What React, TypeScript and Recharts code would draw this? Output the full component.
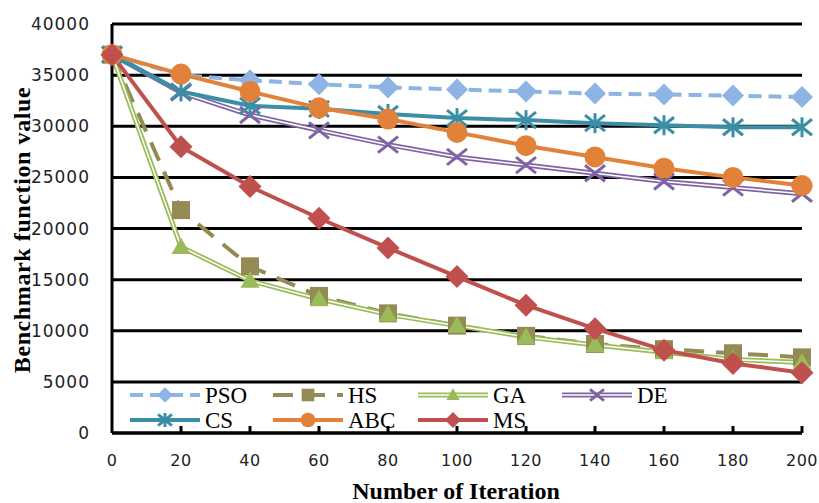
import React from 'react';
import { LineChart, Line, XAxis, YAxis, CartesianGrid } from 'recharts';

const iterations = [0, 20, 40, 60, 80, 100, 120, 140, 160, 180, 200];
const pso = [37000, 35000, 34500, 34100, 33800, 33600, 33400, 33200, 33100, 33000, 32850];
const hs = [37000, 21800, 16300, 13400, 11700, 10500, 9500, 8700, 8200, 7800, 7400];
const ga = [37000, 18200, 14900, 13100, 11600, 10500, 9400, 8600, 7900, 7200, 6900];
const de = [37000, 33300, 31100, 29600, 28200, 27000, 26200, 25400, 24600, 24000, 23400];
const cs = [37000, 33400, 32000, 31700, 31200, 30800, 30600, 30300, 30100, 29900, 29900];
const abc = [37000, 35100, 33400, 31800, 30700, 29400, 28100, 27000, 25900, 25000, 24200];
const ms = [37000, 28000, 24100, 21000, 18100, 15300, 12500, 10200, 8100, 6800, 5900];

const yTicks = [0, 5000, 10000, 15000, 20000, 25000, 30000, 35000, 40000];

const data = iterations.map((it, i) => ({
  it,
  PSO: pso[i],
  HS: hs[i],
  GA: ga[i],
  DE: de[i],
  CS: cs[i],
  ABC: abc[i],
  MS: ms[i],
}));

type Shape = 'diamond' | 'square' | 'triangle' | 'x' | 'star' | 'circle';

// scale k lets the legend draw smaller copies of the markers
const marker = (shape: Shape, color: string, size: number) => (cx: number, cy: number, key?: string, k = 1) => {
  const s = size * k;
  switch (shape) {
    case 'diamond':
      return <polygon key={key} points={`${cx},${cy - s} ${cx + s},${cy} ${cx},${cy + s} ${cx - s},${cy}`} fill={color} />;
    case 'square':
      return <rect key={key} x={cx - s} y={cy - s} width={s * 2} height={s * 2} fill={color} />;
    case 'triangle':
      return <polygon key={key} points={`${cx},${cy - s} ${cx + s},${cy + s * 0.75} ${cx - s},${cy + s * 0.75}`} fill={color} />;
    case 'x':
      return (
        <g key={key} stroke={color} strokeWidth={3}>
          <line x1={cx - s} y1={cy - s * 0.8} x2={cx + s} y2={cy + s * 0.8} />
          <line x1={cx - s} y1={cy + s * 0.8} x2={cx + s} y2={cy - s * 0.8} />
        </g>
      );
    case 'star':
      return (
        <g key={key} stroke={color} strokeWidth={3}>
          <line x1={cx - s} y1={cy - s * 0.8} x2={cx + s} y2={cy + s * 0.8} />
          <line x1={cx - s} y1={cy + s * 0.8} x2={cx + s} y2={cy - s * 0.8} />
          <line x1={cx} y1={cy - s} x2={cx} y2={cy + s} />
        </g>
      );
    default:
      return <circle key={key} cx={cx} cy={cy} r={s} fill={color} />;
  }
};

const series = [
  { key: 'PSO', color: '#8DB4E2', dash: '13 7', double: false, draw: marker('diamond', '#8DB4E2', 11) },
  { key: 'HS', color: '#948A54', dash: '20 12', double: false, draw: marker('square', '#948A54', 9) },
  { key: 'GA', color: '#9BBB59', dash: undefined, double: true, draw: marker('triangle', '#9BBB59', 9.5) },
  { key: 'DE', color: '#8064A2', dash: undefined, double: true, draw: marker('x', '#8064A2', 10) },
  { key: 'CS', color: '#3A8EA6', dash: undefined, double: false, draw: marker('star', '#3A8EA6', 10) },
  { key: 'ABC', color: '#E2823A', dash: undefined, double: false, draw: marker('circle', '#E2823A', 10.5) },
  { key: 'MS', color: '#C0504D', dash: undefined, double: false, draw: marker('diamond', '#C0504D', 11.5) },
];

const XTick = (props: any) => {
  const { x, y, payload } = props;
  return (
    <g>
      {payload.value !== 0 && <line x1={x} x2={x} y1={y - 7} y2={y} stroke="#000" strokeWidth={3} />}
      <text x={x} y={y + 33} textAnchor="middle" fontFamily="DejaVu Sans" fontSize={16} fill="#222" letterSpacing={0.5}>
        {payload.value}
      </text>
    </g>
  );
};

const legendPos = [
  [130, 395], [273, 395], [418, 395], [562, 395],
  [130, 420], [273, 420], [418, 420],
];

export default function App() {
  return (
    <div style={{ position: 'absolute', left: 0, top: 0, width: 819, height: 503, background: '#fff' }}>
      <LineChart width={819} height={503} data={data} margin={{ top: 24, right: 17, left: 0, bottom: 0 }}>
        <CartesianGrid vertical={false} stroke="#000" strokeWidth={3} />
        <XAxis
          dataKey="it"
          type="number"
          domain={[0, 200]}
          ticks={iterations}
          height={70}
          tickSize={0}
          tickMargin={0}
          tickLine={false}
          axisLine={{ stroke: '#000', strokeWidth: 3 }}
          tick={<XTick />}
          interval={0}
        />
        <YAxis
          domain={[0, 40000]}
          ticks={yTicks}
          width={112}
          tickLine={false}
          tickMargin={16}
          axisLine={{ stroke: '#000', strokeWidth: 3 }}
          tick={{ fontFamily: 'DejaVu Sans', fontSize: 17, fill: '#222', letterSpacing: 1 }}
          interval={0}
        />
        {series.map((s) =>
          s.double
            ? [
                <Line key={s.key + 'o'} dataKey={s.key} stroke={s.color} strokeWidth={5} dot={false} isAnimationActive={false} />,
                <Line
                  key={s.key + 'i'}
                  dataKey={s.key}
                  stroke="#fff"
                  strokeWidth={1.5}
                  dot={(p: any) => s.draw(p.cx, p.cy, `${s.key}-${p.index}`)}
                  isAnimationActive={false}
                />,
              ]
            : (
                <Line
                  key={s.key}
                  dataKey={s.key}
                  stroke={s.color}
                  strokeWidth={4}
                  strokeDasharray={s.dash}
                  dot={(p: any) => s.draw(p.cx, p.cy, `${s.key}-${p.index}`)}
                  isAnimationActive={false}
                />
              )
        )}
      </LineChart>
      <svg width={819} height={503} style={{ position: 'absolute', left: 0, top: 0, pointerEvents: 'none' }}>
        {series.map((s, i) => {
          const [lx, ly] = legendPos[i];
          return (
            <g key={s.key}>
              {s.double ? (
                <g>
                  <line x1={lx} x2={lx + 70} y1={ly} y2={ly} stroke={s.color} strokeWidth={5} />
                  <line x1={lx} x2={lx + 70} y1={ly} y2={ly} stroke="#fff" strokeWidth={1.5} />
                </g>
              ) : (
                <line x1={lx} x2={lx + 70} y1={ly} y2={ly} stroke={s.color} strokeWidth={4} strokeDasharray={s.dash} />
              )}
              {s.draw(lx + 35, ly, undefined, 0.7)}
              <text x={lx + 75} y={ly + 8} fontFamily="Liberation Serif" fontSize={23} fill="#000">
                {s.key}
              </text>
            </g>
          );
        })}
        <text
          transform="translate(30,230) rotate(-90)"
          textAnchor="middle"
          fontFamily="Liberation Serif"
          fontWeight="bold"
          fontSize={24}
          letterSpacing={0.6}
          fill="#000"
        >
          Benchmark function value
        </text>
        <text x={456} y={499} textAnchor="middle" fontFamily="Liberation Serif" fontWeight="bold" fontSize={24} fill="#000">
          Number of Iteration
        </text>
      </svg>
    </div>
  );
}
